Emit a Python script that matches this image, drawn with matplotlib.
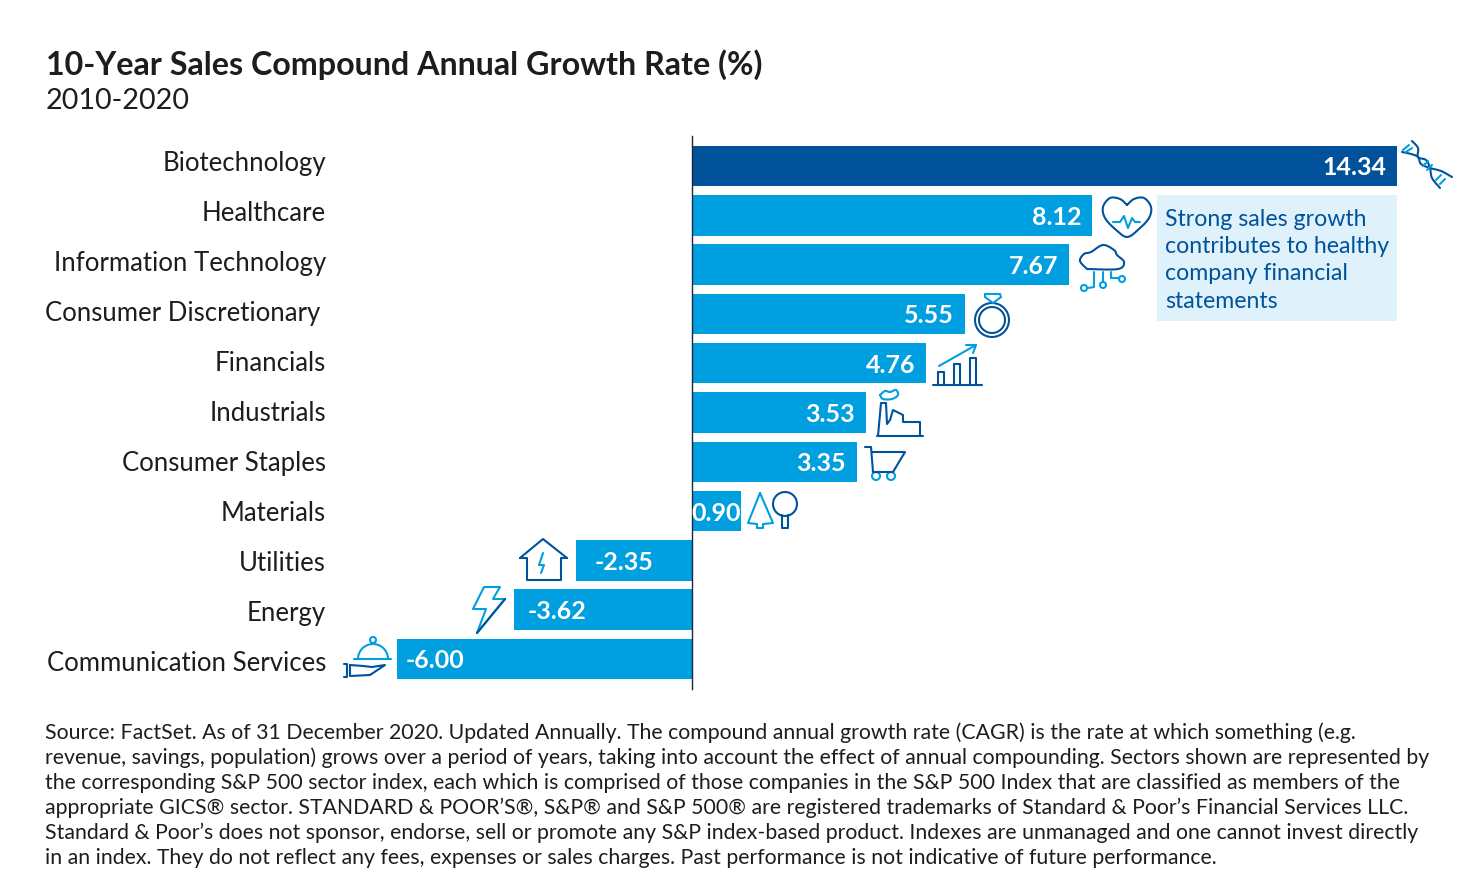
import matplotlib
matplotlib.use('Agg')
import matplotlib.pyplot as plt
from matplotlib.patches import Circle, Rectangle, Arc, Polygon
import numpy as np

plt.rcParams['font.family'] = ['Lato', 'DejaVu Sans']

sectors = ['Biotechnology', 'Healthcare', 'Information Technology', 'Consumer Discretionary ',
           'Financials', 'Industrials', 'Consumer Staples', 'Materials', 'Utilities', 'Energy',
           'Communication Services']
# the Materials bar is drawn a little longer than its 0.90 label in the picture
cagr = [14.34, 8.14, 7.67, 5.55, 4.76, 3.53, 3.35, 0.99, -2.35, -3.62, -6.00]
value_text = ['14.34', '8.12', '7.67', '5.55', '4.76', '3.53', '3.35', '0.90', '-2.35', '-3.62', '-6.00']

title = '10-Year Sales Compound Annual Growth Rate (%)'
subtitle = '2010-2020'
callout = ['Strong sales growth', 'contributes to healthy', 'company financial', 'statements']
source = [
    'Source: FactSet. As of 31 December 2020. Updated Annually. The compound annual growth rate (CAGR) is the rate at which something (e.g.',
    'revenue, savings, population) grows over a period of years, taking into account the effect of annual compounding. Sectors shown are represented by',
    'the corresponding S&P 500 sector index, each which is comprised of those companies in the S&P 500 Index that are classified as members of the',
    'appropriate GICS® sector. STANDARD & POOR’S®, S&P® and S&P 500® are registered trademarks of Standard & Poor’s Financial Services LLC.',
    'Standard & Poor’s does not sponsor, endorse, sell or promote any S&P index-based product. Indexes are unmanaged and one cannot invest directly',
    'in an index. They do not reflect any fees, expenses or sales charges. Past performance is not indicative of future performance.',
]

DARK = '#00539b'
LIGHT = '#009fdf'
PALE = '#dff1fa'
INK = '#1d1d1f'

W, H = 1480, 896
fig = plt.figure(figsize=(W / 100, H / 100), dpi=100, facecolor='white')

# bars sit on a full figure axes, scale picked so 0 lands on x=692 and 49.18 px per unit
ax = fig.add_axes([0, 0, 1, 1])
px_x = 49.18
px_y = 49.3
ax.set_xlim(-692 / px_x, (W - 692) / px_x)
ax.set_ylim((H - 166) / px_y, -166 / px_y)
ax.axis('off')

pos = np.arange(len(cagr))
colors = [DARK] + [LIGHT] * (len(cagr) - 1)
ax.barh(pos, cagr, height=40.5 / px_y, color=colors, zorder=2)
ax.plot([0, 0], [(136 - 166) / px_y, (689 - 166) / px_y], color='#16283a', lw=1, zorder=3)

# left padding of the negative labels differs per bar in the original
neg_pad = {8: 18, 9: 14, 10: 9}
for i, v in enumerate(cagr):
    if v < 0:
        ax.annotate(value_text[i], (v, i), xytext=(neg_pad[i] * 0.72, -1.4), textcoords='offset points',
                    ha='left', va='center', color='white', fontsize=18, fontweight='bold', zorder=4)
    elif v < 1:
        ax.annotate(value_text[i], (v / 2, i), xytext=(0, -1.4), textcoords='offset points', ha='center',
                    va='center', color='white', fontsize=18, fontweight='bold', zorder=4)
    else:
        ax.annotate(value_text[i], (v, i), xytext=(-11 * 0.72, -1.4), textcoords='offset points',
                    ha='right', va='center', color='white', fontsize=18, fontweight='bold', zorder=4)

# pixel overlay for text and icons
ov = fig.add_axes([0, 0, 1, 1])
ov.set_xlim(0, W)
ov.set_ylim(H, 0)
ov.axis('off')
ov.patch.set_alpha(0)

ov.text(46, 65, title, fontsize=23.25, fontweight='bold', color=INK, va='center')
ov.text(46, 101, subtitle, fontsize=20.7, color=INK, va='center')

for i, s in enumerate(sectors):
    right = 320 if s.endswith(' ') else 326
    ov.text(right, 163.5 + 50 * i, s.strip(), fontsize=18.5, color=INK, ha='right', va='center')

ov.add_patch(Rectangle((1157, 195), 240, 126, color=PALE, lw=0))
for i, line_txt in enumerate(callout):
    ov.text(1165, 219 + 27.4 * i, line_txt, fontsize=16.7, color=DARK, va='center')

for i, line_txt in enumerate(source):
    ov.text(45, 733 + 25 * i, line_txt, fontsize=15.3, color=INK, va='center')


def smooth(pts, n=14):
    pts = np.array(pts, dtype=float)
    p = np.vstack([pts[0], pts, pts[-1]])
    out = []
    for k in range(1, len(p) - 2):
        for t in np.linspace(0, 1, n, endpoint=False):
            out.append(0.5 * (2 * p[k] + (p[k + 1] - p[k - 1]) * t
                              + (2 * p[k - 1] - 5 * p[k] + 4 * p[k + 1] - p[k + 2]) * t ** 2
                              + (3 * p[k] - p[k - 1] - 3 * p[k + 1] + p[k + 2]) * t ** 3))
    out.append(p[-2])
    return np.array(out)


def line(pts, c=DARK, lw=1.5, curved=False):
    a = smooth(pts) if curved else np.array(pts, dtype=float)
    ov.plot(a[:, 0], a[:, 1], color=c, lw=lw, solid_joinstyle='round', solid_capstyle='round')


def ring(x, y, r, c=DARK, lw=1.5):
    ov.add_patch(Circle((x, y), r, fill=False, ec=c, lw=lw))


# dna
line([(1402, 152), (1411, 154), (1418, 157), (1421, 164), (1430, 168), (1441, 171), (1452, 177)], curved=True)
line([(1412, 141), (1418, 148), (1418, 157), (1426, 160), (1430, 168), (1432, 178), (1440, 188)], curved=True)
for r in [[(1403, 150), (1409, 145)], [(1406, 152), (1412, 148)], [(1423, 166), (1428, 161)],
          [(1427, 170), (1432, 165)], [(1436, 180), (1441, 175)], [(1440, 184), (1445, 179)]]:
    line(r, LIGHT)

# heart
line([(1127, 205), (1120, 199), (1110, 198), (1103, 207), (1105, 218), (1115, 229), (1127, 237),
      (1139, 229), (1149, 218), (1151, 207), (1144, 198), (1134, 199), (1127, 205)], curved=True)
line([(1113, 222), (1120, 222), (1124, 216), (1128, 228), (1132, 218), (1135, 222), (1140, 222)], LIGHT)

# cloud
line([(1087, 269), (1080, 261), (1084, 254), (1091, 252), (1103, 245), (1114, 250), (1117, 255),
      (1124, 262), (1118, 269), (1087, 269)], curved=True)
line([(1094, 272), (1094, 287), (1088, 288)], LIGHT)
line([(1103, 272), (1103, 282)], LIGHT)
line([(1111, 272), (1111, 278), (1118, 278)], LIGHT)
for x, y in [(1084, 288), (1103, 285), (1122, 279)]:
    ring(x, y, 3, LIGHT)

# ring
ring(992, 320, 17)
ring(992, 320, 13)
ov.add_patch(Polygon([(985, 294), (1000, 294), (1001, 297), (993, 303), (985, 297)], fill=False, ec=LIGHT, lw=1.5))

# bar chart
line([(933, 385), (982, 385)])
for x0, x1, y0 in [(938, 944, 372), (954, 960, 364), (970, 976, 358)]:
    line([(x0, 385), (x0, y0), (x1, y0), (x1, 385)])
line([(939, 366), (976, 345)], LIGHT)
line([(966, 345), (976, 345), (973, 353)], LIGHT)

# factory
line([(877, 436), (923, 436)])
line([(878, 436), (881, 403), (886, 403), (887, 424), (890, 420), (893, 410), (903, 415), (903, 422),
      (920, 422), (920, 436)])
line([(880, 395), (885, 391), (890, 392), (896, 390), (898, 395), (892, 399), (883, 399), (880, 395)], LIGHT, curved=True)

# cart
line([(865, 447), (871, 447), (873, 472), (893, 472), (905, 452), (872, 452)])
ring(876, 476, 4, LIGHT)
ring(891, 476, 4, LIGHT)

# trees
line([(760, 493), (748, 523), (757, 524), (757, 528), (763, 528), (763, 524), (773, 523), (760, 493)], LIGHT)
ring(785, 504, 12)
line([(782, 515), (782, 528), (788, 528), (788, 515)])

# house
line([(520, 558), (543, 539), (567, 558)])
line([(520, 558), (527, 558), (527, 580), (561, 580), (561, 558), (567, 558)])
line([(543, 553), (539, 565), (544, 565), (541, 573)], LIGHT)

# lightning
line([(505, 599), (477, 633), (486, 609), (473, 609), (484, 587), (500, 587), (493, 599), (505, 599)], LIGHT)
line([(505, 599), (477, 633)])

# cloche and hand
ring(373, 640, 3, LIGHT)
ov.add_patch(Arc((373, 659), 30, 30, theta1=180, theta2=360, ec=LIGHT, lw=1.5))
line([(354, 659), (391, 659)], LIGHT)
line([(344, 664), (347, 664), (347, 677), (344, 677)])
line([(350, 665), (363, 666), (372, 667), (385, 665), (370, 675), (350, 676), (350, 665)])

fig.savefig('out.png', dpi=100, facecolor='white')
